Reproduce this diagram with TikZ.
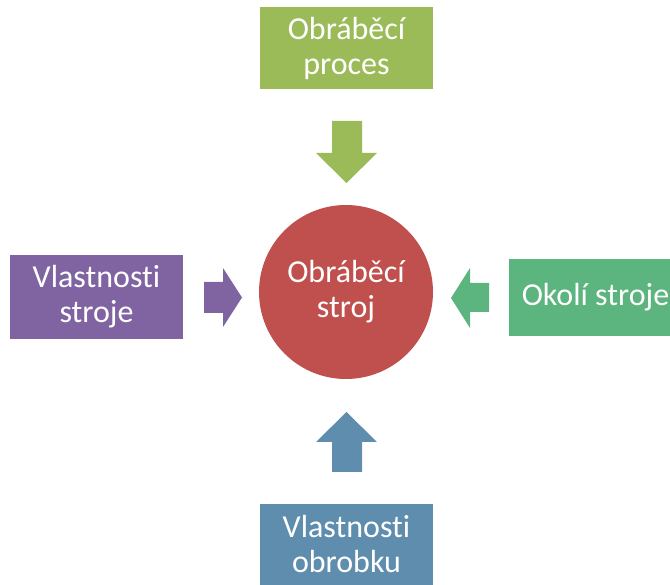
\documentclass[tikz,border=0pt]{standalone}
\usepackage{fontspec}
\setmainfont{Carlito}[Ligatures=NoCommon]
\definecolor{cgreen}{HTML}{9BBB59}
\definecolor{cpurple}{HTML}{8064A2}
\definecolor{cteal}{HTML}{5CB47E}
\definecolor{cblue}{HTML}{5F8DAD}
\definecolor{cred}{HTML}{C0504D}
\begin{document}
\begin{tikzpicture}[x=1pt,y=-1pt,
  box/.style={minimum width=173pt, minimum height=82pt, inner sep=0pt, text=white, align=center,
    font=\fontsize{32}{35}\selectfont}]
\useasboundingbox (0,0) rectangle (670,585);
% boxes
\node[box, fill=cgreen] (top) at (346.5,48) {Obráběcí\\proces};
\node[box, fill=cpurple, minimum height=84pt] (left) at (96.5,297) {Vlastnosti\\stroje};
\begin{scope}
\clip (0,0) rectangle (670,585);
\node[box, fill=cteal, minimum height=77pt] (right) at (595.5,297.5) {Okolí stroje};
\end{scope}
\node[box, fill=cblue, minimum height=81pt] (bottom) at (346.5,544.5) {Vlastnosti\\obrobku};
\node[circle, fill=cred, minimum size=174pt, inner sep=0pt, text=white, align=center,
  font=\fontsize{32}{35}\selectfont] (center) at (346,292) {Obráběcí\\stroj};
% block arrows
\fill[cgreen] (332,121) -- (362,121) -- (362,153) -- (377,153) -- (346.5,183) -- (316,153) -- (332,153) -- cycle;
\fill[cpurple] (204,282) -- (223,282) -- (223,268) -- (242,297.5) -- (223,327) -- (223,313) -- (204,313) -- cycle;
\fill[cteal] (489,283) -- (470,283) -- (470,268) -- (451,298) -- (470,328) -- (470,312) -- (489,312) -- cycle;
\fill[cblue] (332,472) -- (362,472) -- (362,442) -- (377,442) -- (346.5,412) -- (316,442) -- (332,442) -- cycle;
\end{tikzpicture}
\end{document}
